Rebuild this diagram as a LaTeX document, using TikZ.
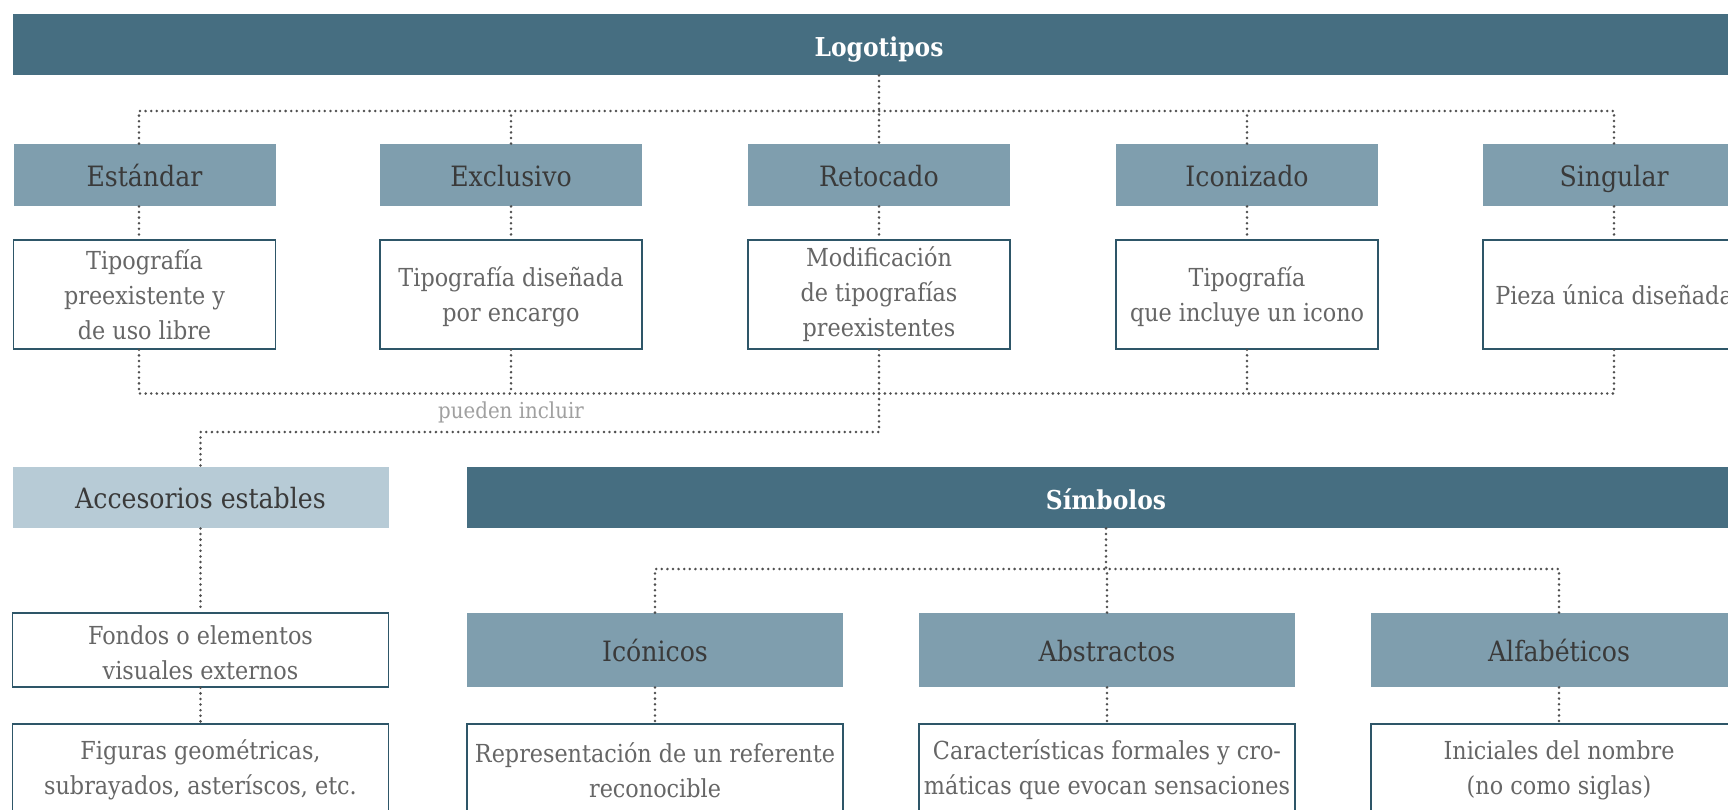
\documentclass[tikz,border=0pt]{standalone}
\usepackage{fontspec}
\setmainfont{DejaVu Serif Condensed}[BoldFont={DejaVu Serif Condensed Bold}]
\usetikzlibrary{calc}
\definecolor{darkbar}{HTML}{466E81}
\definecolor{midfill}{HTML}{7F9EAE}
\definecolor{lightfill}{HTML}{B7CBD6}
\definecolor{boxline}{HTML}{2E5668}
\definecolor{headtxt}{HTML}{3A3A3A}
\definecolor{desctxt}{HTML}{666666}
\definecolor{notetxt}{HTML}{A0A0A0}
\definecolor{dotline}{HTML}{4F4F4F}
\begin{document}
\begin{tikzpicture}[x=0.5pt,y=-0.5pt,
  mainbar/.style={fill=darkbar, text=white, font=\bfseries\fontsize{13}{15}\selectfont, inner sep=0pt, minimum height=30.5pt, text height=11.5pt, text depth=0pt},
  headbox/.style={fill=midfill, text=headtxt, font=\fontsize{14}{16}\selectfont, inner sep=0pt, minimum height=31pt, minimum width=131pt, text height=12.5pt, text depth=1.5pt},
  descbox/.style={draw=boxline, line width=0.75pt, fill=white, text=desctxt, font=\fontsize{12.4}{17.5}\selectfont, align=center, inner sep=0pt, minimum width=131pt, minimum height=54.5pt},
  widehead/.style={headbox, minimum width=188pt, minimum height=37pt},
  widedesc/.style={descbox, minimum width=188pt},
  dots/.style={draw=dotline, line width=1.4pt, line cap=round, dash pattern=on 0pt off 2.8pt},
  notelabel/.style={text=notetxt, font=\fontsize{11}{13}\selectfont, inner sep=0pt}
]
\clip (0,0) rectangle (1728,809);
\fill[white] (0,0) rectangle (1728,809);

% Logotipos
\node[mainbar, minimum width=866pt] (logo) at (879,44.5) {Logotipos};

\node[headbox] (est) at (144.5,175) {Estándar};
\node[headbox] (exc) at (511,175) {Exclusivo};
\node[headbox] (ret) at (879,175) {Retocado};
\node[headbox] (icz) at (1247,175) {Iconizado};
\node[headbox] (sing) at (1614,175) {Singular};

\node[descbox] (estd) at (144.5,294.5) {Tipografía\\preexistente y\\de uso libre};
\node[descbox] (excd) at (511,294.5) {\strut Tipografía diseñada\\por encargo};
\node[descbox] (retd) at (879,294.5) {Modificación\\de tipografías\\preexistentes};
\node[descbox] (iczd) at (1247,294.5) {\strut Tipografía\\que incluye un icono};
\node[descbox] (singd) at (1614,294.5) {Pieza única diseñada};

\coordinate (topy) at (0,111);
\coordinate (boty) at (0,393.5);
\coordinate (elby) at (0,432);

\draw[dots] (logo.south) -- (ret.north);
\draw[dots] ([xshift=-2.75pt]est.north) |- (sing.north |- topy) -- (sing.north);
\draw[dots] (exc.north) -- (exc.north |- topy);
\draw[dots] (icz.north) -- (icz.north |- topy);

\draw[dots] ([xshift=-2.75pt]est.south) -- ([xshift=-2.75pt]estd.north);
\draw[dots] (exc.south) -- (excd.north);
\draw[dots] (ret.south) -- (retd.north);
\draw[dots] (icz.south) -- (iczd.north);
\draw[dots] (sing.south) -- (singd.north);

\draw[dots] ([xshift=-2.75pt]estd.south) |- (singd.south |- boty) -- (singd.south);
\draw[dots] (excd.south) -- (excd.south |- boty);
\draw[dots] (retd.south) -- (retd.south |- boty);
\draw[dots] (iczd.south) -- (iczd.south |- boty);

% Accesorios
\node[widehead, fill=lightfill, minimum height=30.5pt] (acc) at (200.5,497.5) {Accesorios estables};
\node[widedesc, minimum height=37pt] (fon) at (200.5,650) {\strut Fondos o elementos\\visuales externos};
\node[widedesc, minimum height=46pt] (fig) at (200.5,770) {Figuras geométricas,\\subrayados, asteríscos, etc.};

\draw[dots] (retd.south |- boty) -- (retd.south |- elby) -| (acc.north);
\node[notelabel] (note) at (511,412) {pueden incluir};
\draw[dots] (acc.south) -- (fon.north);
\draw[dots] (fon.south) -- (fig.north);

% Simbolos
\node[mainbar, minimum width=639pt] (sym) at (1106,497.5) {Símbolos};
\coordinate (hy) at (0,569);

\node[widehead] (icn) at (655,650) {Icónicos};
\node[widehead] (abs) at (1107,650) {Abstractos};
\node[widehead] (alf) at (1559,650) {Alfabéticos};

\node[widedesc, minimum height=46pt] (icnd) at (655,770) {Representación de un referente\\reconocible};
\node[widedesc, minimum height=46pt] (absd) at (1107,770) {Características formales y cro-\\máticas que evocan sensaciones};
\node[widedesc, minimum height=46pt] (alfd) at (1559,770) {Iniciales del nombre\\(no como siglas)};

\draw[dots] (sym.south) -- (sym.south |- hy);
\draw[dots] (icn.north) |- (alf.north |- hy) -- (alf.north);
\draw[dots] (abs.north) -- (abs.north |- hy);

\draw[dots] (icn.south) -- (icnd.north);
\draw[dots] (abs.south) -- (absd.north);
\draw[dots] (alf.south) -- (alfd.north);
\end{tikzpicture}
\end{document}
